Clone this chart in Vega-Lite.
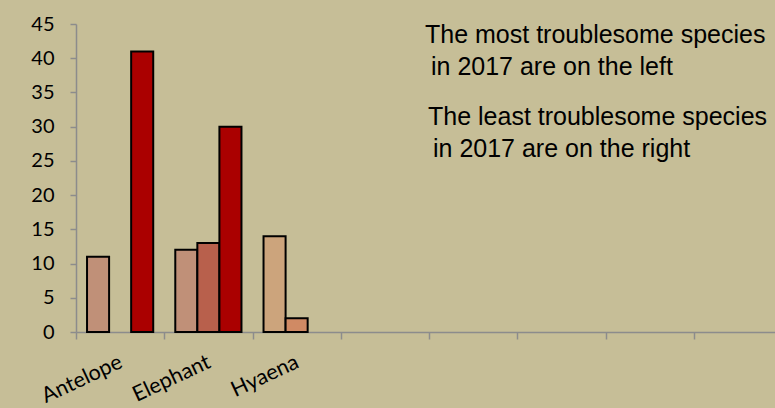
{
  "$schema": "https://vega.github.io/schema/vega-lite/v6.json",
  "width": 700,
  "height": 308,
  "autosize": {"type": "none"},
  "padding": {"left": 76, "top": 24, "right": 0, "bottom": 76},
  "background": "#c6be97",
  "config": {
    "view": {"stroke": null},
    "axis": {"title": null, "grid": false, "labelColor": "#000000", "labelFont": "Lato", "tickColor": "#8c8c8c", "tickWidth": 1.5, "domainColor": "#8c8c8c", "domainWidth": 1.5, "labelOverlap": false},
    "axisX": {"tickBand": "extent", "labelAngle": -25, "labelAlign": "right", "labelBaseline": "top", "labelFontSize": 21.5, "labelPadding": 12, "labelOffset": -4, "tickSize": 7},
    "axisY": {"labelFontSize": 20, "labelPadding": 16, "tickSize": 6, "tickCount": 10}
  },
  "layer": [
    {
      "data": {"values": [
        {"species": "Antelope", "series": "s1", "bar": "Antelope s1", "value": 11},
        {"species": "Antelope", "series": "s3", "bar": "Antelope s3", "value": 41},
        {"species": "Elephant", "series": "s1", "bar": "Elephant s1", "value": 12},
        {"species": "Elephant", "series": "s2", "bar": "Elephant s2", "value": 13},
        {"species": "Elephant", "series": "s3", "bar": "Elephant s3", "value": 30},
        {"species": "Hyaena", "series": "s1", "bar": "Hyaena s1", "value": 14},
        {"species": "Hyaena", "series": "s2", "bar": "Hyaena s2", "value": 2}
      ]},
      "mark": {"type": "bar", "stroke": "#000000", "strokeWidth": 2},
      "encoding": {
        "x": {
          "field": "species", "type": "nominal",
          "scale": {"domain": ["Antelope", "Elephant", "Hyaena", "d4", "d5", "d6", "d7", "d8"], "paddingInner": 0, "paddingOuter": 0, "range": [0, 706]},
          "axis": {"labelExpr": "indexof(['Antelope','Elephant','Hyaena'], datum.value) >= 0 ? datum.value : ''"}
        },
        "xOffset": {"field": "series", "type": "nominal", "scale": {"domain": ["s1", "s2", "s3"], "paddingInner": 0, "paddingOuter": 0.5}},
        "y": {
          "field": "value", "type": "quantitative",
          "scale": {"domain": [0, 45], "nice": false},
          "axis": {"values": [0, 5, 10, 15, 20, 25, 30, 35, 40, 45]}
        },
        "color": {
          "field": "bar", "type": "nominal",
          "scale": {
            "domain": ["Antelope s1", "Antelope s3", "Elephant s1", "Elephant s2", "Elephant s3", "Hyaena s1", "Hyaena s2"],
            "range": ["#c09078", "#aa0000", "#c09078", "#b8604c", "#aa0000", "#cca47c", "#d08a64"]
          },
          "legend": null
        }
      }
    },
    {
      "data": {"values": [{}]},
      "mark": {"type": "text", "text": "The most troublesome species", "font": "Liberation Sans", "fontSize": 25, "align": "left", "baseline": "alphabetic", "color": "#000000", "dx": -4},
      "encoding": {
        "x": {"datum": "d5", "bandPosition": 0, "axis": {"labelExpr": "indexof(['Antelope','Elephant','Hyaena'], datum.value) >= 0 ? datum.value : ''"}},
        "y": {"datum": 42.2, "axis": {"values": [0, 5, 10, 15, 20, 25, 30, 35, 40, 45]}}
      }
    },
    {
      "data": {"values": [{}]},
      "mark": {"type": "text", "text": "in 2017 are on the left", "font": "Liberation Sans", "fontSize": 25, "align": "left", "baseline": "alphabetic", "color": "#000000", "dx": 2},
      "encoding": {
        "x": {"datum": "d5", "bandPosition": 0, "axis": {"labelExpr": "indexof(['Antelope','Elephant','Hyaena'], datum.value) >= 0 ? datum.value : ''"}},
        "y": {"datum": 37.6, "axis": {"values": [0, 5, 10, 15, 20, 25, 30, 35, 40, 45]}}
      }
    },
    {
      "data": {"values": [{}]},
      "mark": {"type": "text", "text": "The least troublesome species", "font": "Liberation Sans", "fontSize": 25, "align": "left", "baseline": "alphabetic", "color": "#000000", "dx": -1},
      "encoding": {
        "x": {"datum": "d5", "bandPosition": 0, "axis": {"labelExpr": "indexof(['Antelope','Elephant','Hyaena'], datum.value) >= 0 ? datum.value : ''"}},
        "y": {"datum": 30.2, "axis": {"values": [0, 5, 10, 15, 20, 25, 30, 35, 40, 45]}}
      }
    },
    {
      "data": {"values": [{}]},
      "mark": {"type": "text", "text": "in 2017 are on the right", "font": "Liberation Sans", "fontSize": 25, "align": "left", "baseline": "alphabetic", "color": "#000000", "dx": 4},
      "encoding": {
        "x": {"datum": "d5", "bandPosition": 0, "axis": {"labelExpr": "indexof(['Antelope','Elephant','Hyaena'], datum.value) >= 0 ? datum.value : ''"}},
        "y": {"datum": 25.6, "axis": {"values": [0, 5, 10, 15, 20, 25, 30, 35, 40, 45]}}
      }
    }
  ]
}
